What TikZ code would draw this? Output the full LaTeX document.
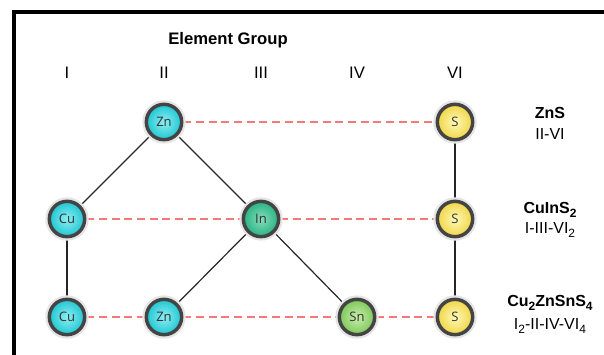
\documentclass[tikz,border=0pt]{standalone}
\usepackage{fontspec}
\setmainfont{Liberation Sans}
\newfontfamily\atomfont{Open Sans}
\usetikzlibrary{positioning,backgrounds}

\definecolor{rim}{HTML}{444444}
\definecolor{cyanin}{HTML}{8EEEF2}
\definecolor{cyanout}{HTML}{1EC6D2}
\definecolor{indin}{HTML}{86DDB8}
\definecolor{indout}{HTML}{27B383}
\definecolor{tinin}{HTML}{CBEDAE}
\definecolor{tinout}{HTML}{7CC858}
\definecolor{sulin}{HTML}{FFF8B8}
\definecolor{sulout}{HTML}{F0D646}
\definecolor{linkred}{HTML}{F47A7A}

\newcommand{\sub}[1]{\raisebox{-0.45ex}{\fontsize{9}{10}\selectfont #1}}

\begin{document}
\begin{tikzpicture}[x=0.75pt,y=-0.75pt,
    atom/.style={circle, draw=rim, line width=2.6pt, minimum size=26.5pt, inner sep=0pt,
      font=\atomfont\fontsize{9.8}{11}\selectfont, text=black!80,
      preaction={draw=black!10, line width=6pt}},
    cyanatom/.style={atom, inner color=cyanin, outer color=cyanout},
    inatom/.style={atom, inner color=indin, outer color=indout},
    snatom/.style={atom, inner color=tinin, outer color=tinout},
    satom/.style={atom, inner color=sulin, outer color=sulout},
    bond/.style={draw=black!85, line width=0.9pt},
    link/.style={color=linkred, line width=0.9pt, dash pattern=on 6pt off 3.5pt},
    hdr/.style={font=\fontsize{12.5}{14}\selectfont},
    formula/.style={font=\bfseries\fontsize{12}{14}\selectfont},
    groups/.style={font=\fontsize{12}{14}\selectfont}]
  \useasboundingbox (0,0) rectangle (604,354);
  \clip (0,0) rectangle (604,354);
  % frame
  \draw[line width=3pt] (14,12) rectangle (700,420);

  % headings
  \node[hdr, font=\bfseries\fontsize{12.5}{14}\selectfont] (title) at (228,40) {Element Group};
  \node[hdr] (gI)   at (67,73)  {I};
  \node[hdr] (gII)  at (164,73) {II};
  \node[hdr] (gIII) at (261,73) {III};
  \node[hdr] (gIV)  at (357,73) {IV};
  \node[hdr] (gVI)  at (455,73) {VI};

  % atoms
  \node[cyanatom] (zn1) at (164,122) {Zn};
  \node[satom]    (s1)  at (455,122) {S};
  \node[cyanatom] (cu2) at (67,219)  {Cu};
  \node[inatom]   (in2) at (261,219) {In};
  \node[satom]    (s2)  at (455,219) {S};
  \node[cyanatom] (cu3) at (67,317)  {Cu};
  \node[cyanatom] (zn3) at (164,317) {Zn};
  \node[snatom]   (sn3) at (357,317) {Sn};
  \node[satom]    (s3)  at (455,317) {S};

  \begin{scope}[on background layer]
    % bonds
    \draw[bond] (zn1) -- (cu2);
    \draw[bond] (zn1) -- (in2);
    \draw[bond] (cu2) -- (cu3);
    \draw[bond] (in2) -- (zn3);
    \draw[bond] (in2) -- (sn3);
    \draw[bond] (s1) -- (s2);
    \draw[bond] (s2) -- (s3);
    % rows
    \draw[link] (zn1) -- (s1);
    \draw[link] (cu2) -- (in2);
    \draw[link] (in2) -- (s2);
    \draw[link] (cu3) -- (zn3);
    \draw[link] (zn3) -- (sn3);
    \draw[link] (sn3) -- (s3);
  \end{scope}

  % compounds
  \node[formula] (znS)  at (550,113) {ZnS};
  \node[groups]  (znSg) at (550,134) {II-VI};
  \node[formula] (cis)  at (550,210) {CuInS\sub{2}};
  \node[groups]  (cisg) at (550,230) {I-III-VI\sub{2}};
  \node[formula] (czts) at (550,303) {Cu\sub{2}ZnSnS\sub{4}};
  \node[groups]  (cztsg) at (550,326) {I\sub{2}-II-IV-VI\sub{4}};
\end{tikzpicture}
\end{document}
